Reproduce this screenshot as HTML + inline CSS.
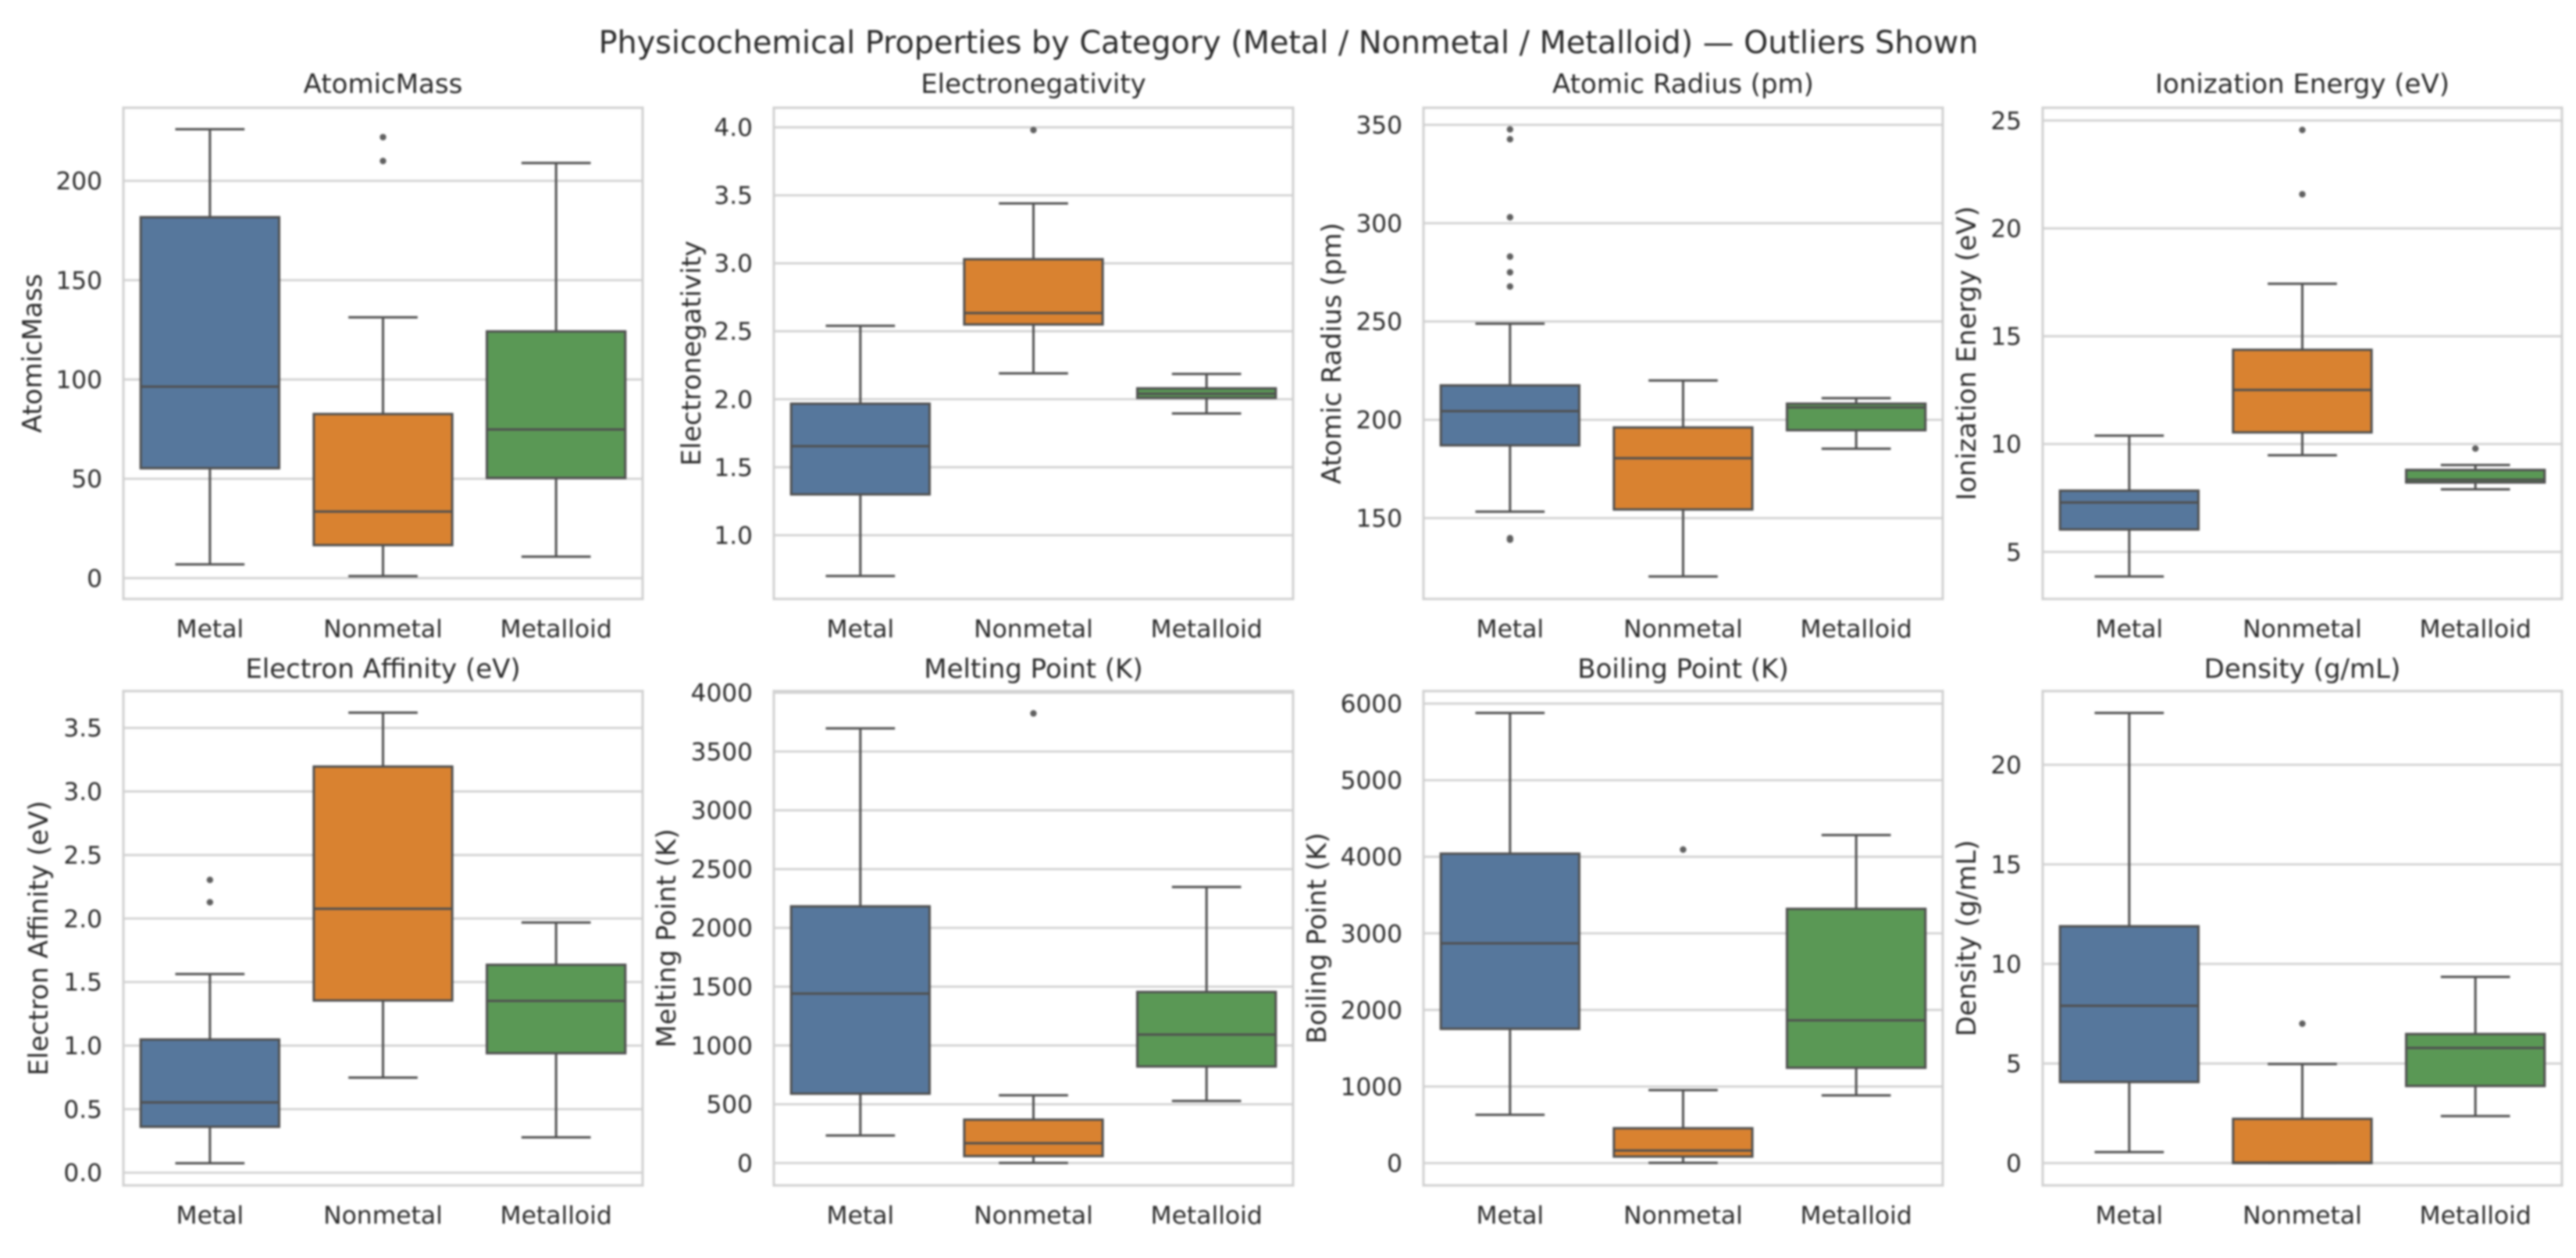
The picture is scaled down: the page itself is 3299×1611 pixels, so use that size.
<!DOCTYPE html>
<html lang="en">
<head>
<meta charset="utf-8">
<title>Physicochemical Properties by Category</title>
<style>
  html, body { margin: 0; padding: 0; background: #ffffff; }
  body { width: 3299px; height: 1611px; overflow: hidden; }
  #chart { display: block; filter: blur(1.2px); }
  text { font-family: "DejaVu Sans", "Liberation Sans", sans-serif; fill: #2b2b2b; }
</style>
</head>
<body>
<svg id="chart" xmlns="http://www.w3.org/2000/svg" width="3299" height="1611" viewBox="0 0 3299 1611">
  <rect width="3299" height="1611" fill="#ffffff"></rect>
  <text x="1650" y="68" font-size="39.7" text-anchor="middle">Physicochemical Properties by Category (Metal / Nonmetal / Metalloid) — Outliers Shown</text>
</svg>
<script>
// Shared categories
const categories = ['Metal', 'Nonmetal', 'Metalloid'];
const categoryColors = ['#56779c', '#d98230', '#5a9855'];

// Each box row: [whisker low, q1, median, q3, whisker high], one row per category
const atomicMassBoxes = [[6.9, 55.3, 96.4, 181.7, 226], [1.0, 16.6, 33.5, 82.6, 131.3], [10.8, 50.4, 74.8, 124.2, 209]];
const atomicMassOutliers = [[], [222, 210], []];
const atomicMassTicks = ['0', '50', '100', '150', '200'];
const atomicMassLimits = [-10.5, 236.8];

const electronegativityBoxes = [[0.7, 1.30, 1.655, 1.967, 2.54], [2.19, 2.55, 2.634, 3.03, 3.44], [1.895, 2.01, 2.04, 2.08, 2.186]];
const electronegativityOutliers = [[], [3.98], []];
const electronegativityTicks = ['1.0', '1.5', '2.0', '2.5', '3.0', '3.5', '4.0'];
const electronegativityLimits = [0.531, 4.144];

const atomicRadiusBoxes = [[153.3, 187, 204.4, 217.5, 248.9], [120.3, 154.4, 180.5, 196.1, 220], [185.3, 194.7, 206.3, 208.2, 211]];
const atomicRadiusOutliers = [[347.7, 342.7, 303, 283, 275, 267.8, 139.8, 139], [], []];
const atomicRadiusTicks = ['150', '200', '250', '300', '350'];
const atomicRadiusLimits = [108.9, 358.7];

const ionizationEnergyBoxes = [[3.86, 6.04, 7.29, 7.84, 10.39], [9.48, 10.54, 12.51, 14.37, 17.43], [7.9, 8.22, 8.35, 8.8, 9.03]];
const ionizationEnergyOutliers = [[], [24.56, 21.58], [9.79]];
const ionizationEnergyTicks = ['5', '10', '15', '20', '25'];
const ionizationEnergyLimits = [2.82, 25.59];

const electronAffinityBoxes = [[0.074, 0.361, 0.553, 1.048, 1.563], [0.748, 1.355, 2.077, 3.196, 3.62], [0.278, 0.94, 1.352, 1.636, 1.969]];
const electronAffinityOutliers = [[2.304, 2.128], [], []];
const electronAffinityTicks = ['0.0', '0.5', '1.0', '1.5', '2.0', '2.5', '3.0', '3.5'];
const electronAffinityLimits = [-0.10, 3.79];

const meltingPointBoxes = [[234, 590, 1441, 2183, 3697], [1, 59, 169, 369, 576], [528, 821, 1093, 1455, 2348]];
const meltingPointOutliers = [[], [3824], []];
const meltingPointTicks = ['0', '500', '1000', '1500', '2000', '2500', '3000', '3500', '4000'];
const meltingPointLimits = [-190, 4014];

const boilingPointBoxes = [[630, 1753, 2870, 4041, 5878], [4, 85, 164, 455, 953], [884, 1245, 1864, 3320, 4284]];
const boilingPointOutliers = [[], [4094], []];
const boilingPointTicks = ['0', '1000', '2000', '3000', '4000', '5000', '6000'];
const boilingPointLimits = [-291, 6164];

const densityBoxes = [[0.55, 4.07, 7.9, 11.89, 22.6], [0, 0, 0.02, 2.22, 4.97], [2.36, 3.87, 5.78, 6.48, 9.35]];
const densityOutliers = [[], [7.0], []];
const densityTicks = ['0', '5', '10', '15', '20'];
const densityLimits = [-1.12, 23.7];

const panelTitles = ['AtomicMass', 'Electronegativity', 'Atomic Radius (pm)', 'Ionization Energy (eV)', 'Electron Affinity (eV)', 'Melting Point (K)', 'Boiling Point (K)', 'Density (g/mL)'];
const panelYLabels = ['AtomicMass', 'Electronegativity', 'Atomic Radius (pm)', 'Ionization Energy (eV)', 'Electron Affinity (eV)', 'Melting Point (K)', 'Boiling Point (K)', 'Density (g/mL)'];
const panelBoxes = [atomicMassBoxes, electronegativityBoxes, atomicRadiusBoxes, ionizationEnergyBoxes, electronAffinityBoxes, meltingPointBoxes, boilingPointBoxes, densityBoxes];
const panelOutliers = [atomicMassOutliers, electronegativityOutliers, atomicRadiusOutliers, ionizationEnergyOutliers, electronAffinityOutliers, meltingPointOutliers, boilingPointOutliers, densityOutliers];
const panelTicks = [atomicMassTicks, electronegativityTicks, atomicRadiusTicks, ionizationEnergyTicks, electronAffinityTicks, meltingPointTicks, boilingPointTicks, densityTicks];
const panelLimits = [atomicMassLimits, electronegativityLimits, atomicRadiusLimits, ionizationEnergyLimits, electronAffinityLimits, meltingPointLimits, boilingPointLimits, densityLimits];

// Layout (frame geometry only)
const columnLefts = [158, 991, 1823, 2616];
const columnWidth = 665;
const rowTops = [138, 885];
const rowBottoms = [767, 1518];
const rowTitleOffsets = [19, 17];
const yLabelBaselines = [53, 897, 1717, 2530, 61, 865, 1698, 2530];

const LINE = '#505050';
const GRID = '#d2d2d2';
const NS = 'http://www.w3.org/2000/svg';
const root = document.getElementById('chart');

function make(parent, tag, attrs) {
  const el = document.createElementNS(NS, tag);
  for (const k in attrs) el.setAttribute(k, attrs[k]);
  parent.appendChild(el);
  return el;
}
function slug(s) {
  return s.toLowerCase().replace(/[^a-z0-9]+/g, '-').replace(/^-|-$/g, '');
}

panelTitles.forEach(function (title, p) {
  const left = columnLefts[p % 4];
  const right = left + columnWidth;
  const row = Math.floor(p / 4);
  const top = rowTops[row];
  const bottom = rowBottoms[row];
  const limits = panelLimits[p];
  const key = slug(title);

  const yScale = function (v) { return bottom - (v - limits[0]) / (limits[1] - limits[0]) * (bottom - top); };
  const xScale = function (i) { return left + (i + 0.5) * columnWidth / categories.length; };
  const bandWidth = columnWidth / categories.length;

  const g = make(root, 'g', {});
  
  

  // grid and y tick labels
  panelTicks[p].forEach(function (label) {
    const v = Number(label);
    const grid = make(g, 'line', { x1: left, x2: right, y1: yScale(v), y2: yScale(v), stroke: GRID, 'stroke-width': 2.8 });
    
    
    const tick = make(g, 'text', { x: left - 27, y: yScale(v) + 11, 'font-size': 31.2, 'text-anchor': 'end' });
    tick.textContent = label;
    
    
  });

  // boxes
  categories.forEach(function (cat, i) {
    const s = panelBoxes[p][i];
    const cx = xScale(i);
    const boxW = bandWidth * 0.8;
    const capW = bandWidth * 0.4;
    const boxG = make(g, 'g', { stroke: LINE, 'stroke-width': 3, fill: 'none' });
    
    

    const whiskerLow = make(boxG, 'line', { x1: cx, x2: cx, y1: yScale(s[1]), y2: yScale(s[0]) });
    
    
    const whiskerHigh = make(boxG, 'line', { x1: cx, x2: cx, y1: yScale(s[3]), y2: yScale(s[4]) });
    
    
    const capLow = make(boxG, 'line', { x1: cx - capW / 2, x2: cx + capW / 2, y1: yScale(s[0]), y2: yScale(s[0]) });
    
    
    const capHigh = make(boxG, 'line', { x1: cx - capW / 2, x2: cx + capW / 2, y1: yScale(s[4]), y2: yScale(s[4]) });
    
    

    const rect = make(boxG, 'rect', { x: cx - boxW / 2, y: yScale(s[3]), width: boxW, height: Math.max(0, yScale(s[1]) - yScale(s[3])), fill: categoryColors[i] });
    
    
    const median = make(boxG, 'line', { x1: cx - boxW / 2, x2: cx + boxW / 2, y1: yScale(s[2]), y2: yScale(s[2]) });
    
    

    panelOutliers[p][i].forEach(function (v) {
      const dot = make(boxG, 'circle', { cx: cx, cy: yScale(v), r: 4.2, fill: '#606060', stroke: 'none' });
      
      
    });

    const catLabel = make(g, 'text', { x: cx, y: bottom + 49, 'font-size': 31.4, 'text-anchor': 'middle' });
    catLabel.textContent = cat;
    
    
  });

  // frame
  const frame = make(g, 'rect', { x: left, y: top, width: columnWidth, height: bottom - top, fill: 'none', stroke: GRID, 'stroke-width': 3.2 });
  
  

  const titleEl = make(g, 'text', { x: left + columnWidth / 2, y: top - rowTitleOffsets[row], 'font-size': 34, 'text-anchor': 'middle' });
  titleEl.textContent = title;
  
  

  const yb = yLabelBaselines[p];
  const cy = (top + bottom) / 2;
  const yLabel = make(g, 'text', { x: yb, y: cy, 'font-size': 34, 'text-anchor': 'middle', transform: 'rotate(-90 ' + yb + ' ' + cy + ')' });
  yLabel.textContent = panelYLabels[p];
  
  
});
</script>
</body>
</html>
